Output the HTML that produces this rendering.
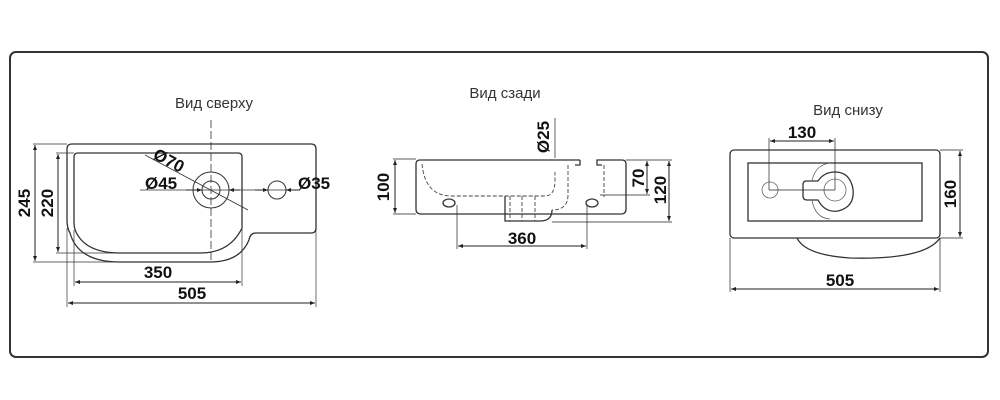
<!DOCTYPE html>
<html><head><meta charset="utf-8"><style>
html,body{margin:0;padding:0;background:#fff;}
svg{display:block;}
.t{font-family:"Liberation Sans",sans-serif;font-size:15px;fill:#333;}
.d{font-family:"Liberation Sans",sans-serif;font-size:17px;font-weight:bold;fill:#111;}
</style></head><body>
<svg width="1000" height="400" viewBox="0 0 1000 400" xmlns="http://www.w3.org/2000/svg">
<defs>
<marker id="a" viewBox="0 0 10 10" refX="10" refY="5" markerWidth="7" markerHeight="5" orient="auto-start-reverse"><path d="M0,1 L10,5 L0,9 z" fill="#222"/></marker>
</defs>
<rect x="10" y="52" width="978" height="305" rx="6" fill="none" stroke="#333" stroke-width="2"/>
<g fill="none" stroke="#333" stroke-width="1.3">
<path d="M72,144 H311 Q316,144 316,149 V228 Q316,233 311,233 H256 Q250,233 249,240 Q240,262 210,262 H120 Q78,262 70,233 Q67,228 67,220 V149 Q67,144 72,144 Z"/>
<path d="M78,153 H238 Q242,153 242,157 V228 Q230,253 200,253 H120 Q86,253 76,232 Q74,228 74,222 V157 Q74,153 78,153 Z"/>
<circle cx="211" cy="190" r="18" stroke-width="1"/>
<circle cx="211" cy="190" r="9" stroke-width="1"/>
<circle cx="277" cy="190" r="9" stroke-width="1"/>
<line x1="211" y1="120" x2="211" y2="262" stroke-dasharray="8,3" stroke-width="0.8"/>
<line x1="140" y1="190" x2="300" y2="190" stroke-width="0.8"/>
<line x1="145" y1="155" x2="248" y2="210" stroke-width="0.8"/>
<line x1="33" y1="144" x2="67" y2="144" stroke-width="0.7"/>
<line x1="33" y1="262" x2="120" y2="262" stroke-width="0.7"/>
<line x1="56" y1="153" x2="74" y2="153" stroke-width="0.7"/>
<line x1="56" y1="253" x2="120" y2="253" stroke-width="0.7"/>
<line x1="74" y1="230" x2="74" y2="286" stroke-width="0.7"/>
<line x1="242" y1="228" x2="242" y2="286" stroke-width="0.7"/>
<line x1="67" y1="228" x2="67" y2="307" stroke-width="0.7"/>
<line x1="316" y1="228" x2="316" y2="307" stroke-width="0.7"/>
</g>
<g stroke="#222" stroke-width="1" marker-start="url(#a)" marker-end="url(#a)">
<line x1="35" y1="145" x2="35" y2="261"/>
<line x1="58" y1="154" x2="58" y2="252"/>
<line x1="75" y1="282" x2="241" y2="282"/>
<line x1="68" y1="303" x2="315" y2="303"/>
</g>
<g stroke="#222" stroke-width="1" marker-end="url(#a)">
<line x1="186" y1="190" x2="202" y2="190"/>
<line x1="240" y1="190" x2="229" y2="190"/>
<line x1="255" y1="190" x2="268" y2="190"/>
<line x1="300" y1="190" x2="286" y2="190"/>
</g>
<text class="t" x="214" y="108" text-anchor="middle">Вид сверху</text>
<text class="d" x="152" y="158" transform="rotate(28 152 158)">Ø70</text>
<text class="d" x="145" y="189">Ø45</text>
<text class="d" x="298" y="189">Ø35</text>
<text class="d" x="30" y="203" transform="rotate(-90 30 203)" text-anchor="middle">245</text>
<text class="d" x="53" y="203" transform="rotate(-90 53 203)" text-anchor="middle">220</text>
<text class="d" x="158" y="278" text-anchor="middle">350</text>
<text class="d" x="192" y="299" text-anchor="middle">505</text>

<g fill="none" stroke="#333" stroke-width="1.3">
<path d="M580,160 H420 Q416,160 416,164 V209 Q416,214 421,214 H621 Q626,214 626,209 V164 Q626,160 622,160 H597 V165 H602"/>
<path d="M580,160 V165 H575"/>
<path d="M505,196 V221 H540 Q552,221 552,210"/>
<ellipse cx="449" cy="203" rx="6" ry="4"/>
<ellipse cx="592" cy="203" rx="6" ry="4"/>
</g>
<g fill="none" stroke="#444" stroke-width="0.9" stroke-dasharray="4,2">
<path d="M422,164 Q425,195 450,196 H545 Q555,196 555,180 V172"/>
<path d="M568,165 V195 Q568,210 552,210"/>
<line x1="510" y1="196" x2="510" y2="221"/>
<line x1="522" y1="196" x2="522" y2="221"/>
<line x1="535" y1="196" x2="535" y2="221"/>
<line x1="604" y1="165" x2="604" y2="197"/>
</g>
<g stroke="#222" stroke-width="0.7" fill="none">
<line x1="393" y1="159" x2="416" y2="159"/>
<line x1="393" y1="214" x2="416" y2="214"/>
<line x1="626" y1="160" x2="672" y2="160"/>
<line x1="600" y1="195" x2="650" y2="195"/>
<line x1="552" y1="222" x2="672" y2="222"/>
<line x1="457" y1="205" x2="457" y2="249"/>
<line x1="587" y1="205" x2="587" y2="249"/>
<line x1="555" y1="118" x2="555" y2="158"/>
</g>
<g stroke="#222" stroke-width="1" marker-start="url(#a)" marker-end="url(#a)">
<line x1="395" y1="160" x2="395" y2="213"/>
<line x1="647" y1="161" x2="647" y2="194"/>
<line x1="669" y1="161" x2="669" y2="221"/>
<line x1="458" y1="246" x2="586" y2="246"/>
</g>
<text class="t" x="505" y="98" text-anchor="middle">Вид сзади</text>
<text class="d" x="549" y="137" transform="rotate(-90 549 137)" text-anchor="middle">Ø25</text>
<text class="d" x="389" y="187" transform="rotate(-90 389 187)" text-anchor="middle">100</text>
<text class="d" x="644" y="178" transform="rotate(-90 644 178)" text-anchor="middle">70</text>
<text class="d" x="666" y="190" transform="rotate(-90 666 190)" text-anchor="middle">120</text>
<text class="d" x="522" y="244" text-anchor="middle">360</text>

<g fill="none" stroke="#333" stroke-width="1.3">
<rect x="730" y="150" width="210" height="88" rx="4"/>
<rect x="748" y="163" width="174" height="58"/>
<path d="M797,238 Q805,255 850,258 Q925,260 940,238"/>
<path d="M806,181 Q803,181 803,185 V196 Q803,200 807,200 H818 Q825,213 838,211 Q855,207 853,189 Q850,172 835,172 Q824,172 818,181 Z"/>
</g>
<g fill="none" stroke="#666" stroke-width="0.8">
<path d="M812,181 Q815,165 830,163"/>
<path d="M812,200 Q815,218 830,219"/>
<circle cx="770" cy="190" r="8"/>
<circle cx="835" cy="190" r="11"/>
</g>
<g stroke="#222" stroke-width="0.7" fill="none">
<path d="M769,190 V138 M835,190 V138 M769,190 H835"/>
<line x1="940" y1="150" x2="963" y2="150"/>
<line x1="940" y1="238" x2="963" y2="238"/>
<line x1="730" y1="238" x2="730" y2="292"/>
<line x1="940" y1="238" x2="940" y2="292"/>
</g>
<g stroke="#222" stroke-width="1" marker-start="url(#a)" marker-end="url(#a)">
<line x1="770" y1="141" x2="834" y2="141"/>
<line x1="960" y1="151" x2="960" y2="237"/>
<line x1="731" y1="289" x2="939" y2="289"/>
</g>
<text class="t" x="848" y="115" text-anchor="middle">Вид снизу</text>
<text class="d" x="802" y="138" text-anchor="middle">130</text>
<text class="d" x="956" y="194" transform="rotate(-90 956 194)" text-anchor="middle">160</text>
<text class="d" x="840" y="286" text-anchor="middle">505</text>
</svg>
</body></html>
